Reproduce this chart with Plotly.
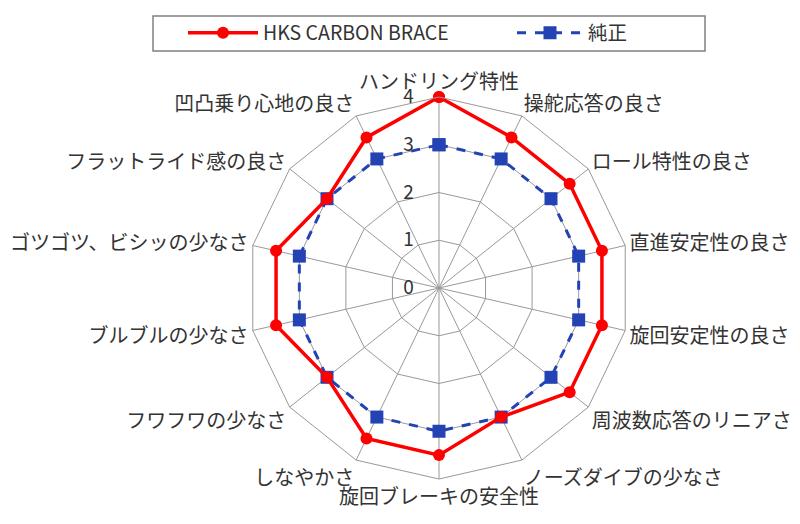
import plotly.graph_objects as go

categories = ["ハンドリング特性", "操舵応答の良さ", "ロール特性の良さ", "直進安定性の良さ",
              "旋回安定性の良さ", "周波数応答のリニアさ", "ノーズダイブの少なさ", "旋回ブレーキの安全性",
              "しなやかさ", "フワフワの少なさ", "ブルブルの少なさ", "ゴツゴツ、ビシッの少なさ",
              "フラットライド感の良さ", "凹凸乗り心地の良さ"]
hks_values = [4, 3.5, 3.5, 3.5, 3.5, 3.5, 3, 3.5, 3.5, 3, 3.5, 3.5, 3, 3.5]
stock_values = [3, 3, 3, 3, 3, 3, 3, 3, 3, 3, 3, 3, 3, 3]
radial_ticks = [0, 1, 2, 3, 4]

RED = "#ff0000"
BLUE = "#2342b4"
FONT = "Noto Sans CJK JP"
W, H = 800, 524

fig = go.Figure()
fig.add_trace(go.Scatterpolar(
    r=stock_values + stock_values[:1], theta=categories + categories[:1],
    mode="lines+markers", name="純正", legend="legend2",
    line=dict(color=BLUE, width=3, dash="dash"),
    marker=dict(symbol="square", size=13, color=BLUE),
))
fig.add_trace(go.Scatterpolar(
    r=hks_values + hks_values[:1], theta=categories + categories[:1],
    mode="lines+markers", name="HKS CARBON BRACE", legend="legend",
    line=dict(color=RED, width=3.5),
    marker=dict(symbol="circle", size=12, color=RED),
))

# legend frame
fig.add_shape(type="rect", xref="paper", yref="paper",
              x0=145/W, x1=697/W, y0=1-8/H, y1=1-43/H,
              line=dict(color="#808080", width=1.5), fillcolor="rgba(0,0,0,0)")

legend_common = dict(orientation="h", yanchor="middle", y=1-25/H, xanchor="left",
                     bgcolor="rgba(0,0,0,0)", borderwidth=0,
                     font=dict(size=19.5, color="#333333", family=FONT))

fig.update_layout(
    width=W, height=H,
    margin=dict(l=0, r=0, t=0, b=0),
    paper_bgcolor="white", plot_bgcolor="white",
    font=dict(family=FONT, color="#333333", size=20),
    showlegend=True,
    legend=dict(x=175/W, itemwidth=70, **legend_common),
    legend2=dict(x=504/W, itemwidth=66, **legend_common),
    polar=dict(
        domain=dict(x=[240/W, 622/W], y=[1-471/H, 1-89/H]),
        bgcolor="white",
        gridshape="linear",
        angularaxis=dict(
            direction="clockwise", rotation=90,
            showline=True, linecolor="#999999", linewidth=1,
            gridcolor="#999999", gridwidth=1,
            ticks="", tickfont=dict(size=20, color="#333333", family=FONT),
        ),
        radialaxis=dict(
            range=[0, 4], tickvals=radial_ticks, ticktext=[str(v) for v in radial_ticks],
            angle=90, side="counterclockwise", tickangle=90,
            showline=False, ticks="outside", ticklen=18, tickcolor="rgba(0,0,0,0)",
            gridcolor="#999999", gridwidth=1,
            tickfont=dict(size=19, color="#333333", family=FONT),
        ),
    ),
)

fig.write_html("out.html")
